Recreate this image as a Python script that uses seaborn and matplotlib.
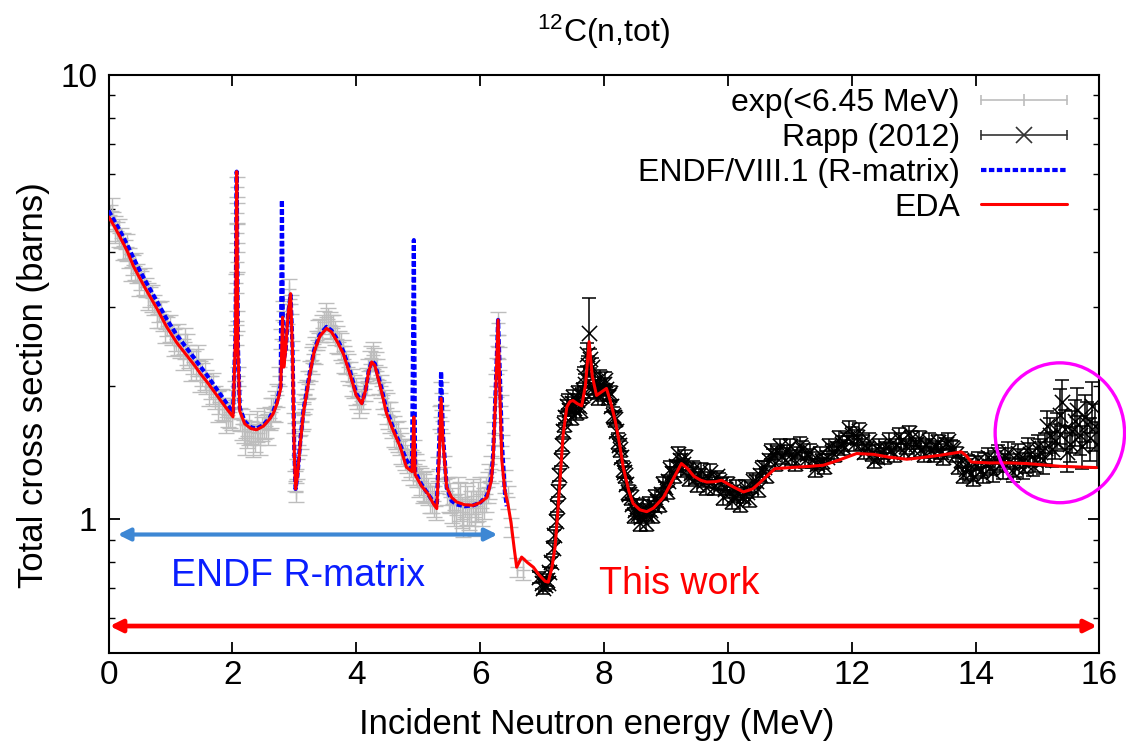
import matplotlib
matplotlib.use("Agg")
import numpy as np
import pandas as pd
import matplotlib.pyplot as plt
import seaborn as sns
from matplotlib.lines import Line2D
from matplotlib.patches import Ellipse
from matplotlib.legend_handler import HandlerBase
from matplotlib.ticker import FixedLocator, FixedFormatter, NullFormatter

# ---------------- data ----------------
title_text = "$^{12}$C(n,tot)"
x_label = "Incident Neutron energy (MeV)"
y_label = "Total cross section (barns)"
x_ticks = [0, 2, 4, 6, 8, 10, 12, 14, 16]
y_major = [1, 10]
y_major_labels = ["1", "10"]
y_minor = [0.6, 0.7, 0.8, 0.9, 2, 3, 4, 5, 6, 7, 8, 9]
legend_labels = ["exp(<6.45 MeV)", "Rapp (2012)", "ENDF/VIII.1 (R-matrix)", "EDA"]

# experimental data below 6.45 MeV (grey), first set
exp_x = [0.02, 0.08, 0.14, 0.20, 0.27, 0.33, 0.40, 0.46, 0.53, 0.60,
         0.67, 0.74, 0.81, 0.88, 0.95, 1.02, 1.09, 1.16, 1.23, 1.30,
         1.37, 1.44, 1.51, 1.58, 1.65, 1.72, 1.79, 1.86, 1.93, 1.99,
         2.04, 2.06, 2.065, 2.068, 2.07, 2.072, 2.075, 2.08, 2.09, 2.12,
         2.18, 2.24, 2.30, 2.36, 2.42, 2.48, 2.54, 2.60, 2.66, 2.72,
         2.76, 2.79, 2.82, 2.85, 2.88, 2.92, 2.95, 2.97, 2.99, 3.01,
         3.03, 3.05, 3.08, 3.12, 3.16, 3.20, 3.25, 3.30, 3.36, 3.42,
         3.48, 3.54, 3.60, 3.66, 3.72, 3.78, 3.84, 3.90, 3.96, 4.02,
         4.08, 4.14, 4.19, 4.24, 4.29, 4.34, 4.40, 4.46, 4.52, 4.58,
         4.64, 4.70, 4.76, 4.82, 4.88, 4.93, 4.98, 5.04, 5.10, 5.16,
         5.22, 5.28, 5.32, 5.35, 5.37, 5.39, 5.42, 5.46, 5.52, 5.58,
         5.64, 5.70, 5.76, 5.82, 5.88, 5.94, 6.00, 6.06, 6.12, 6.18,
         6.22, 6.25, 6.27, 6.29, 6.31, 6.33, 6.36, 6.40, 6.45, 6.50,
         6.60, 6.70]
exp_y = [4.85, 4.68, 4.45, 4.30, 4.05, 3.88, 3.74, 3.58, 3.45, 3.33,
         3.17, 3.04, 2.93, 2.80, 2.72, 2.60, 2.54, 2.46, 2.50, 2.33,
         2.26, 2.28, 2.12, 2.04, 1.98, 1.88, 1.84, 1.77, 1.72, 1.69,
         1.95, 2.60, 3.40, 4.40, 5.60, 4.90, 3.80, 2.80, 2.10, 1.68,
         1.58, 1.54, 1.57, 1.52, 1.56, 1.60, 1.62, 1.69, 1.77, 1.90,
         2.10, 2.55, 2.95, 2.65, 2.90, 3.30, 3.05, 2.40, 1.65, 1.22,
         1.15, 1.30, 1.47, 1.66, 1.82, 1.96, 2.16, 2.36, 2.53, 2.66,
         2.78, 2.82, 2.72, 2.63, 2.50, 2.39, 2.26, 2.13, 1.99, 1.88,
         1.85, 1.96, 2.16, 2.31, 2.29, 2.16, 1.99, 1.84, 1.72, 1.64,
         1.55, 1.50, 1.42, 1.37, 1.34, 1.42, 1.27, 1.22, 1.18, 1.16,
         1.11, 1.07, 1.30, 1.70, 1.92, 1.66, 1.31, 1.16, 1.12, 1.05,
         1.14, 1.04, 1.11, 1.03, 1.13, 1.07, 1.14, 1.09, 1.18, 1.30,
         1.56, 2.00, 2.45, 2.76, 2.30, 1.80, 1.46, 1.22, 1.12, 0.96,
         0.78, 0.77]
exp_err_pct = [5, 5, 5, 5, 5, 5, 5, 5, 5, 5,
               5, 5, 5, 5, 5, 5, 6, 6, 8, 6,
               6, 8, 6, 6, 6, 6, 6, 6, 6, 6,
               5, 5, 5, 5, 5, 5, 5, 5, 5, 6,
               6, 6, 6, 7, 6, 6, 6, 6, 6, 6,
               5, 5, 5, 5, 5, 5, 5, 5, 5, 5,
               5, 5, 5, 5, 5, 5, 5, 5, 5, 6,
               6, 6, 6, 6, 6, 6, 6, 6, 6, 6,
               6, 6, 6, 6, 6, 6, 6, 6, 7, 7,
               7, 7, 7, 7, 7, 6, 7, 7, 7, 7,
               7, 7, 6, 6, 6, 6, 6, 7, 8, 8,
               9, 8, 9, 8, 9, 8, 9, 8, 8, 7,
               6, 6, 6, 6, 6, 6, 6, 6, 6, 5,
               5, 5]

# experimental data below 6.45 MeV (grey), second set
exp_x_b = [0.05, 0.11, 0.17, 0.24, 0.30, 0.37, 0.43, 0.50, 0.57, 0.64,
           0.71, 0.78, 0.85, 0.92, 0.99, 1.06, 1.13, 1.20, 1.27, 1.34,
           1.41, 1.48, 1.55, 1.62, 1.69, 1.76, 1.83, 1.90, 1.96, 2.15,
           2.21, 2.27, 2.33, 2.39, 2.45, 2.51, 2.57, 2.63, 2.69, 3.10,
           3.14, 3.18, 3.22, 3.28, 3.33, 3.39, 3.45, 3.51, 3.57, 3.63,
           3.69, 3.75, 3.81, 3.87, 3.93, 3.99, 4.05, 4.11, 4.17, 4.22,
           4.27, 4.32, 4.37, 4.43, 4.49, 4.55, 4.61, 4.67, 4.73, 4.79,
           4.85, 4.91, 4.96, 5.01, 5.07, 5.13, 5.19, 5.25, 5.49, 5.55,
           5.61, 5.67, 5.73, 5.79, 5.85, 5.91, 5.97, 6.03, 6.09, 6.15]
exp_y_b = [4.95, 4.50, 4.42, 4.12, 4.10, 3.70, 3.72, 3.42, 3.44, 3.18,
           3.14, 2.90, 2.90, 2.68, 2.70, 2.50, 2.55, 2.36, 2.42, 2.22,
           2.24, 2.10, 2.12, 1.95, 1.98, 1.80, 1.82, 1.70, 1.74, 1.64,
           1.52, 1.60, 1.50, 1.62, 1.52, 1.65, 1.60, 1.74, 1.80, 1.55,
           1.72, 1.90, 2.02, 2.28, 2.40, 2.62, 2.70, 2.86, 2.74, 2.70,
           2.55, 2.46, 2.30, 2.20, 2.04, 1.94, 1.82, 1.90, 2.05, 2.24,
           2.34, 2.22, 2.06, 1.90, 1.78, 1.70, 1.58, 1.54, 1.45, 1.40,
           1.33, 1.30, 1.30, 1.22, 1.18, 1.19, 1.12, 1.10, 1.14, 1.08,
           1.02, 1.10, 1.00, 1.08, 1.06, 1.01, 1.10, 1.06, 1.14, 1.22]
exp_err_pct_b = [7, 7, 7, 7, 7, 7, 7, 7, 7, 7,
                 7, 7, 7, 7, 7, 7, 8, 8, 8, 8,
                 8, 8, 8, 8, 8, 8, 8, 8, 8, 8,
                 8, 8, 8, 8, 8, 8, 8, 8, 8, 7,
                 7, 7, 7, 7, 7, 7, 7, 7, 7, 7,
                 7, 7, 7, 7, 7, 7, 7, 7, 7, 7,
                 7, 7, 7, 7, 8, 8, 8, 8, 8, 8,
                 8, 8, 8, 8, 8, 8, 8, 8, 9, 9,
                 9, 10, 9, 10, 9, 9, 10, 9, 9, 9]

# Rapp (2012), first set
rapp_x = [6.95, 7.00, 7.05, 7.08, 7.12, 7.15, 7.18, 7.20, 7.22, 7.24,
          7.26, 7.28, 7.30, 7.32, 7.34, 7.37, 7.40, 7.44, 7.48, 7.52,
          7.56, 7.60, 7.64, 7.68, 7.72, 7.76, 7.80, 7.84, 7.88, 7.92,
          7.96, 8.00, 8.04, 8.08, 8.12, 8.16, 8.20, 8.24, 8.28, 8.32,
          8.36, 8.40, 8.45, 8.50, 8.55, 8.60, 8.65, 8.70, 8.75, 8.80,
          8.86, 8.92, 8.98, 9.04, 9.10, 9.16, 9.22, 9.28, 9.34, 9.40,
          9.47, 9.54, 9.61, 9.68, 9.75, 9.82, 9.89, 9.96, 10.03, 10.10,
          10.17, 10.24, 10.31, 10.38, 10.45, 10.52, 10.59, 10.66, 10.73, 10.80,
          10.88, 10.96, 11.04, 11.12, 11.20, 11.28, 11.36, 11.44, 11.52, 11.60,
          11.68, 11.76, 11.84, 11.92, 12.00, 12.08, 12.16, 12.24, 12.32, 12.40,
          12.48, 12.56, 12.64, 12.72, 12.80, 12.88, 12.96, 13.04, 13.12, 13.20,
          13.28, 13.36, 13.44, 13.52, 13.60, 13.68, 13.76, 13.84, 13.92, 14.00,
          14.08, 14.16, 14.24, 14.32, 14.40, 14.48, 14.56, 14.64, 14.72, 14.80,
          14.88, 14.96, 15.04, 15.12, 15.20, 15.28, 15.36, 15.44, 15.52, 15.60,
          15.68, 15.76, 15.84, 15.92]
rapp_y = [0.74, 0.72, 0.71, 0.73, 0.76, 0.80, 0.86, 0.92, 0.99, 1.07,
          1.16, 1.26, 1.36, 1.47, 1.58, 1.70, 1.80, 1.76, 1.83, 1.78,
          1.86, 1.80, 1.90, 2.10, 2.35, 2.63, 2.20, 1.95, 1.92, 2.00,
          1.95, 2.02, 1.96, 1.90, 1.80, 1.70, 1.58, 1.47, 1.38, 1.28,
          1.20, 1.14, 1.08, 1.05, 1.03, 1.01, 1.04, 1.02, 1.05, 1.07,
          1.10, 1.14, 1.18, 1.22, 1.27, 1.32, 1.36, 1.33, 1.30, 1.27,
          1.24, 1.26, 1.22, 1.24, 1.21, 1.25, 1.20, 1.17, 1.15, 1.13,
          1.14, 1.12, 1.15, 1.18, 1.22, 1.26, 1.31, 1.36, 1.40, 1.42,
          1.39, 1.43, 1.38, 1.41, 1.44, 1.40, 1.36, 1.33, 1.35, 1.38,
          1.42, 1.45, 1.48, 1.52, 1.55, 1.53, 1.49, 1.45, 1.41, 1.38,
          1.42, 1.45, 1.43, 1.47, 1.50, 1.46, 1.52, 1.48, 1.44, 1.47,
          1.43, 1.46, 1.42, 1.48, 1.45, 1.40, 1.36, 1.30, 1.27, 1.32,
          1.29, 1.34, 1.31, 1.36, 1.33, 1.38, 1.35, 1.31, 1.37, 1.34,
          1.40, 1.36, 1.42, 1.45, 1.55, 1.50, 1.72, 1.60, 1.48, 1.66,
          1.55, 1.70, 1.52, 1.62]
rapp_err_pct = [3, 3, 3, 3, 3, 3, 3, 3, 3, 3,
                3, 3, 3, 3, 3, 3, 3, 3, 3, 3,
                3, 3, 4, 5, 6, 20, 5, 4, 3, 3,
                3, 3, 3, 3, 3, 3, 3, 3, 3, 3,
                3, 3, 3, 3, 3, 3, 3, 3, 3, 3,
                3, 3, 3, 3, 3, 3, 3, 3, 3, 3,
                3, 3, 3, 3, 3, 3, 3, 3, 3, 3,
                3, 3, 3, 3, 3, 3, 3, 3, 3, 3,
                4, 3, 4, 3, 4, 3, 4, 3, 4, 3,
                4, 3, 4, 3, 4, 4, 4, 3, 4, 3,
                4, 3, 4, 3, 4, 4, 4, 3, 4, 3,
                4, 3, 4, 3, 4, 4, 4, 5, 4, 5,
                4, 5, 4, 5, 4, 5, 4, 5, 5, 5,
                6, 6, 7, 8, 9, 9, 14, 10, 9, 12,
                10, 12, 11, 12]

# Rapp (2012), second set
rapp_x_b = [7.02, 7.10, 7.36, 7.42, 7.46, 7.50, 7.54, 7.58, 7.62, 7.66,
            7.70, 7.74, 7.78, 7.82, 7.86, 7.90, 7.94, 7.98, 8.02, 8.06,
            8.10, 8.14, 8.18, 8.22, 8.26, 8.30, 8.34, 8.38, 8.43, 8.48,
            8.53, 8.58, 8.63, 8.68, 8.73, 8.78, 8.83, 8.89, 8.95, 9.01,
            9.07, 9.13, 9.19, 9.25, 9.31, 9.37, 9.44, 9.50, 9.57, 9.64,
            9.71, 9.78, 9.85, 9.92, 9.99, 10.06, 10.13, 10.20, 10.27, 10.34,
            10.41, 10.48, 10.55, 10.62, 10.69, 10.76, 10.84, 10.92, 11.00, 11.08,
            11.16, 11.24, 11.32, 11.40, 11.48, 11.56, 11.64, 11.72, 11.80, 11.88,
            11.96, 12.04, 12.12, 12.20, 12.28, 12.36, 12.44, 12.52, 12.60, 12.68,
            12.76, 12.84, 12.92, 13.00, 13.08, 13.16, 13.24, 13.32, 13.40, 13.48,
            13.56, 13.64, 13.72, 13.80, 13.88, 13.96, 14.04, 14.12, 14.20, 14.28,
            14.36, 14.44, 14.52, 14.60, 14.68, 14.76, 14.84, 14.92, 15.00, 15.08,
            15.16, 15.24, 15.32, 15.40, 15.48, 15.56, 15.64, 15.72, 15.80, 15.88,
            15.96]
rapp_y_b = [0.70, 0.72, 1.64, 1.84, 1.70, 1.88, 1.74, 1.92, 1.76, 1.95,
            2.02, 2.22, 2.30, 1.98, 2.05, 1.88, 2.08, 1.92, 2.06, 1.88,
            1.92, 1.72, 1.68, 1.50, 1.44, 1.30, 1.26, 1.15, 1.12, 1.02,
            1.07, 0.98, 1.06, 0.98, 1.08, 1.02, 1.12, 1.08, 1.20, 1.16,
            1.30, 1.26, 1.40, 1.30, 1.38, 1.24, 1.30, 1.20, 1.29, 1.18,
            1.28, 1.18, 1.22, 1.12, 1.20, 1.10, 1.18, 1.08, 1.18, 1.11,
            1.22, 1.17, 1.30, 1.26, 1.42, 1.34, 1.46, 1.36, 1.46, 1.34,
            1.47, 1.36, 1.42, 1.30, 1.40, 1.32, 1.46, 1.40, 1.52, 1.45,
            1.60, 1.48, 1.58, 1.42, 1.50, 1.36, 1.46, 1.39, 1.50, 1.40,
            1.54, 1.42, 1.56, 1.43, 1.52, 1.40, 1.50, 1.40, 1.49, 1.38,
            1.50, 1.44, 1.32, 1.26, 1.34, 1.24, 1.36, 1.26, 1.38, 1.28,
            1.40, 1.30, 1.42, 1.28, 1.41, 1.30, 1.45, 1.32, 1.46, 1.36,
            1.62, 1.44, 1.58, 1.84, 1.42, 1.58, 1.76, 1.46, 1.64, 1.80,
            1.48]
rapp_err_pct_b = [3, 3, 4, 4, 4, 4, 4, 4, 4, 4,
                  5, 5, 5, 4, 4, 4, 4, 4, 4, 4,
                  4, 4, 4, 4, 4, 4, 4, 4, 4, 4,
                  4, 4, 4, 4, 4, 4, 4, 4, 4, 4,
                  4, 4, 4, 4, 4, 4, 4, 4, 4, 4,
                  4, 4, 4, 4, 4, 4, 4, 4, 4, 4,
                  4, 4, 4, 4, 4, 4, 4, 4, 4, 4,
                  4, 4, 4, 4, 4, 4, 4, 4, 4, 4,
                  4, 4, 4, 4, 4, 4, 4, 4, 4, 4,
                  4, 4, 4, 4, 4, 4, 4, 4, 4, 4,
                  4, 4, 4, 4, 4, 4, 4, 4, 5, 5,
                  5, 5, 5, 5, 5, 5, 5, 5, 6, 7,
                  8, 9, 10, 12, 10, 11, 12, 11, 12, 13,
                  12]

# ENDF/VIII.1 R-matrix evaluation
endf_x = [0.00, 0.10, 0.20, 0.30, 0.40, 0.50, 0.60, 0.70, 0.80, 0.94,
          1.10, 1.25, 1.40, 1.48, 1.60, 1.75, 1.90, 2.01, 2.05, 2.07,
          2.09, 2.12, 2.20, 2.30, 2.39, 2.50, 2.60, 2.66, 2.72, 2.78,
          2.80, 2.82, 2.86, 2.90, 2.94, 2.97, 3.00, 3.02, 3.05, 3.10,
          3.15, 3.20, 3.25, 3.32, 3.41, 3.52, 3.60, 3.70, 3.79, 3.90,
          4.00, 4.09, 4.15, 4.20, 4.25, 4.30, 4.40, 4.49, 4.60, 4.71,
          4.81, 4.90, 4.93, 4.95, 5.05, 5.16, 5.25, 5.30, 5.34, 5.37,
          5.40, 5.46, 5.54, 5.62, 5.75, 5.89, 6.00, 6.11, 6.18, 6.21,
          6.25, 6.29, 6.32, 6.35, 6.40, 6.43]
endf_y = [4.95, 4.68, 4.42, 4.15, 3.88, 3.64, 3.43, 3.24, 3.06, 2.82,
          2.60, 2.44, 2.29, 2.21, 2.10, 1.96, 1.83, 1.74, 2.60, 6.06,
          2.45, 1.78, 1.66, 1.61, 1.60, 1.63, 1.69, 1.75, 1.84, 2.00,
          5.23, 2.25, 2.40, 2.90, 3.20, 2.45, 1.42, 1.17, 1.25, 1.52,
          1.77, 1.94, 2.14, 2.40, 2.60, 2.71, 2.66, 2.53, 2.39, 2.15,
          1.92, 1.83, 1.95, 2.15, 2.27, 2.24, 1.99, 1.76, 1.60, 1.47,
          1.36, 1.30, 4.25, 1.28, 1.20, 1.14, 1.09, 1.07, 1.50, 2.15,
          1.55, 1.18, 1.10, 1.08, 1.07, 1.075, 1.09, 1.13, 1.24, 1.40,
          1.95, 2.81, 2.10, 1.50, 1.15, 1.07]

# EDA (this work)
eda_x = [0.00, 0.10, 0.20, 0.30, 0.40, 0.50, 0.60, 0.70, 0.80, 0.94,
         1.10, 1.25, 1.40, 1.48, 1.60, 1.75, 1.90, 2.01, 2.05, 2.07,
         2.09, 2.12, 2.20, 2.30, 2.39, 2.50, 2.60, 2.66, 2.72, 2.78,
         2.81, 2.83, 2.86, 2.90, 2.94, 2.97, 3.00, 3.02, 3.05, 3.10,
         3.15, 3.20, 3.25, 3.32, 3.41, 3.52, 3.60, 3.70, 3.79, 3.90,
         4.00, 4.09, 4.15, 4.20, 4.25, 4.30, 4.40, 4.49, 4.60, 4.71,
         4.81, 4.90, 4.93, 4.95, 5.05, 5.16, 5.25, 5.30, 5.34, 5.37,
         5.40, 5.46, 5.54, 5.62, 5.75, 5.89, 6.00, 6.11, 6.18, 6.21,
         6.25, 6.29, 6.32, 6.35, 6.40, 6.45, 6.50, 6.55, 6.59, 6.63,
         6.67, 6.76, 6.86, 6.95, 7.05, 7.10, 7.16, 7.21, 7.25, 7.29,
         7.34, 7.40, 7.45, 7.50, 7.57, 7.64, 7.70, 7.76, 7.81, 7.88,
         7.95, 8.04, 8.10, 8.18, 8.25, 8.31, 8.40, 8.47, 8.58, 8.69,
         8.80, 8.96, 9.10, 9.25, 9.35, 9.45, 9.56, 9.66, 9.80, 9.90,
         10.05, 10.25, 10.40, 10.47, 10.60, 10.76, 11.00, 11.30, 11.54, 11.80,
         12.08, 12.35, 12.60, 12.89, 13.10, 13.42, 13.77, 13.85, 13.93, 14.23,
         14.50, 14.82, 15.36, 15.95]
eda_y = [4.80, 4.55, 4.28, 4.02, 3.72, 3.50, 3.30, 3.12, 2.95, 2.71,
         2.50, 2.35, 2.21, 2.13, 2.03, 1.90, 1.78, 1.70, 2.60, 6.06,
         2.40, 1.75, 1.64, 1.60, 1.59, 1.62, 1.68, 1.73, 1.82, 1.97,
         2.85, 2.20, 2.40, 2.90, 3.22, 2.40, 1.40, 1.17, 1.25, 1.50,
         1.75, 1.92, 2.12, 2.38, 2.58, 2.69, 2.64, 2.50, 2.36, 2.12,
         1.90, 1.82, 1.95, 2.15, 2.26, 2.22, 1.96, 1.73, 1.58, 1.455,
         1.31, 1.28, 1.70, 1.26, 1.19, 1.14, 1.08, 1.057, 1.40, 1.87,
         1.50, 1.18, 1.12, 1.094, 1.078, 1.075, 1.09, 1.12, 1.22, 1.36,
         1.90, 2.81, 1.90, 1.36, 1.16, 1.08, 0.98, 0.86, 0.78, 0.80,
         0.822, 0.80, 0.78, 0.75, 0.725, 0.722, 0.78, 0.866, 1.02, 1.224,
         1.55, 1.79, 1.84, 1.85, 1.82, 1.80, 2.00, 2.51, 2.10, 1.90,
         1.93, 1.97, 1.85, 1.67, 1.48, 1.31, 1.16, 1.085, 1.05, 1.04,
         1.06, 1.12, 1.22, 1.335, 1.30, 1.25, 1.224, 1.213, 1.215, 1.224,
         1.19, 1.152, 1.17, 1.193, 1.24, 1.30, 1.307, 1.315, 1.323, 1.36,
         1.406, 1.40, 1.38, 1.365, 1.375, 1.393, 1.418, 1.39, 1.345, 1.339,
         1.34, 1.335, 1.316, 1.307]

# annotations
endf_range = [0.15, 6.28]
endf_range_y = 0.924
this_range = [0.02, 15.96]
this_range_y = 0.575
endf_text = "ENDF R-matrix"
this_text = "This work"

# ---------------- style ----------------
sns.set_theme(style="ticks")
plt.rcParams["font.family"] = ["Liberation Sans", "DejaVu Sans"]
plt.rcParams["mathtext.fontset"] = "custom"
plt.rcParams["mathtext.rm"] = "Liberation Sans"
plt.rcParams["mathtext.it"] = "Liberation Sans"
plt.rcParams["axes.edgecolor"] = "black"
plt.rcParams["axes.linewidth"] = 1.5
plt.rcParams["text.color"] = "black"
plt.rcParams["axes.labelcolor"] = "black"
plt.rcParams["xtick.color"] = "black"
plt.rcParams["ytick.color"] = "black"

GREY = "#bdbdbd"

fig = plt.figure(figsize=(11.26, 7.49), dpi=100)
ax = fig.add_axes([0.09636, 0.12817, 0.8801, 0.7717])

# grey experimental points
exp_df = pd.concat([
    pd.DataFrame({"E": exp_x, "xs": exp_y, "pct": exp_err_pct}),
    pd.DataFrame({"E": exp_x_b, "xs": exp_y_b, "pct": exp_err_pct_b}),
], ignore_index=True)
exp_df["err"] = exp_df["xs"] * exp_df["pct"] / 100.0
ax.errorbar(exp_df["E"], exp_df["xs"], yerr=exp_df["err"], fmt="none",
            ecolor=GREY, elinewidth=1.0, capsize=5.5, capthick=1.0, zorder=1)
sns.scatterplot(data=exp_df, x="E", y="xs", marker="+", s=90, color=GREY,
                linewidth=1.0, ax=ax, zorder=1, legend=False)

# Rapp points
rapp_df = pd.concat([
    pd.DataFrame({"E": rapp_x, "xs": rapp_y, "pct": rapp_err_pct}),
    pd.DataFrame({"E": rapp_x_b, "xs": rapp_y_b, "pct": rapp_err_pct_b}),
], ignore_index=True)
rapp_df["err"] = rapp_df["xs"] * rapp_df["pct"] / 100.0
ax.errorbar(rapp_df["E"], rapp_df["xs"], yerr=rapp_df["err"], fmt="none",
            ecolor="black", elinewidth=1.1, capsize=5, capthick=1.1, zorder=2)
sns.scatterplot(data=rapp_df, x="E", y="xs", marker="x", s=120, color="black",
                linewidth=1.1, ax=ax, zorder=2, legend=False)

# ENDF (blue dotted)
endf_df = pd.DataFrame({"E": endf_x, "xs": endf_y})
sns.lineplot(data=endf_df, x="E", y="xs", sort=False, estimator=None, ax=ax,
             color="#0000ff", linewidth=3.0, linestyle=(0, (1.3, 0.6)),
             legend=False, zorder=3)

# EDA (red)
eda_df = pd.DataFrame({"E": eda_x, "xs": eda_y})
sns.lineplot(data=eda_df, x="E", y="xs", sort=False, estimator=None, ax=ax,
             color="#ff0000", linewidth=2.2, legend=False, zorder=4)

# axes
ax.set_yscale("log")
ax.set_xlim(0, 16)
ax.set_ylim(0.5, 10)
ax.xaxis.set_major_locator(FixedLocator(x_ticks))
ax.set_xticklabels([str(t) for t in x_ticks])
ax.yaxis.set_major_locator(FixedLocator(y_major))
ax.yaxis.set_major_formatter(FixedFormatter(y_major_labels))
ax.yaxis.set_minor_locator(FixedLocator(y_minor))
ax.yaxis.set_minor_formatter(NullFormatter())
ax.tick_params(which="both", direction="in", top=True, right=True,
               color="black", labelcolor="black")
ax.tick_params(which="major", length=8, width=1.3, labelsize=24)
ax.tick_params(which="minor", length=4.5, width=1.0)
ax.tick_params(axis="x", which="major", pad=5)
ax.tick_params(axis="y", which="major", pad=8)
for s in ax.spines.values():
    s.set_linewidth(1.5)
    s.set_color("black")

ax.set_xlabel(x_label, fontsize=25, color="black")
ax.set_ylabel(y_label, fontsize=25, color="black")
ax.xaxis.set_label_coords(0.493, -0.096)
ax.yaxis.set_label_coords(-0.059, 0.464)

fig.text(0.5355, 0.9443, title_text, ha="center", va="baseline", fontsize=23, color="black")

# range arrows
ax.annotate("", xy=(endf_range[1], endf_range_y), xytext=(endf_range[0], endf_range_y),
            arrowprops=dict(arrowstyle="<|-|>", color="#3d87d4", lw=3.0,
                            mutation_scale=18, shrinkA=0, shrinkB=0), zorder=5)
ax.annotate("", xy=(this_range[1], this_range_y), xytext=(this_range[0], this_range_y),
            arrowprops=dict(arrowstyle="<|-|>", color="#ff0000", lw=3.4,
                            mutation_scale=18, shrinkA=0, shrinkB=0), zorder=5)
ax.text(3.06, 0.706, endf_text, color="#0a1eff", fontsize=27, ha="center", va="baseline")
ax.text(9.21, 0.680, this_text, color="#ff0000", fontsize=27, ha="center", va="baseline")

# magenta highlight circle
ax.add_patch(Ellipse((0.960, 0.381), 0.1306, 0.242, transform=ax.transAxes,
                     fill=False, ec="#ff00ff", lw=2.4, clip_on=False, zorder=6))

# legend with error-bar style handles
class ErrHandler(HandlerBase):
    def __init__(self, color, marker, ms, lw):
        super().__init__()
        self.c, self.m, self.ms, self.lw = color, marker, ms, lw

    def create_artists(self, legend, orig_handle, xdescent, ydescent, width,
                       height, fontsize, trans):
        y = (height - ydescent) / 2.0
        x0, x1 = -xdescent, -xdescent + width
        line = Line2D([x0, x1], [y, y], color=self.c, lw=self.lw)
        caps = Line2D([x0, x1], [y, y], ls="none", marker="|", ms=7,
                      mew=self.lw, color=self.c)
        mid = Line2D([(x0 + x1) / 2], [y], ls="none", marker=self.m,
                     ms=self.ms, mew=self.lw, color=self.c)
        for a in (line, caps, mid):
            a.set_transform(trans)
        return [line, caps, mid]

h_exp = Line2D([], [], color=GREY)
h_rapp = Line2D([], [], color="#333333")
h_endf = Line2D([], [], color="#0000ff", lw=3.0, linestyle=(0, (1.3, 0.6)))
h_eda = Line2D([], [], color="#ff0000", lw=2.2)
leg = ax.legend([h_exp, h_rapp, h_endf, h_eda], legend_labels,
                handler_map={h_exp: ErrHandler(GREY, "|", 9, 1.2),
                             h_rapp: ErrHandler("#333333", "x", 11, 1.2)},
                loc="upper right", bbox_to_anchor=(0.967, 0.977), frameon=False,
                markerfirst=False, fontsize=23, handlelength=2.7,
                handletextpad=0.65, labelspacing=0.15, borderpad=0,
                borderaxespad=0)
for t in leg.get_texts():
    t.set_color("black")

fig.savefig("out.png", dpi=100)
